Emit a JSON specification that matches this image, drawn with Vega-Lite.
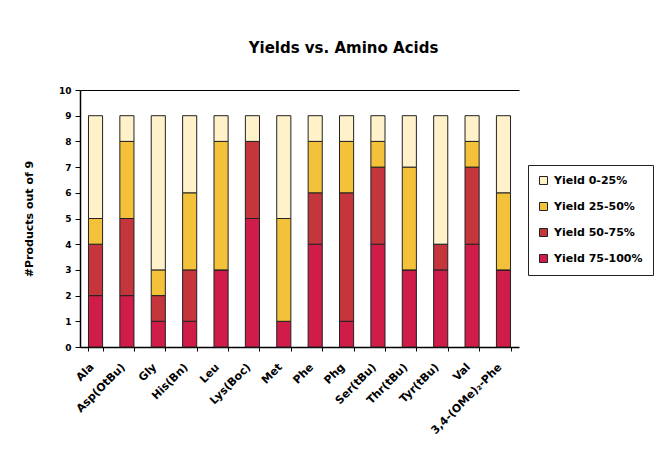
{
  "$schema": "https://vega.github.io/schema/vega-lite/v6.json",
  "width": 439,
  "height": 257,
  "autosize": {"type": "none"},
  "padding": {"left": 80, "top": 90, "right": 152, "bottom": 108},
  "background": "white",
  "title": {
    "text": "Yields vs. Amino Acids",
    "font": "DejaVu Sans",
    "fontSize": 15,
    "fontWeight": "bold",
    "color": "black",
    "offset": 30,
    "dx": 44
  },
  "data": {
    "values": [
      {"acid": "Ala", "yield": "Yield 75-100%", "n": 2},
      {"acid": "Ala", "yield": "Yield 50-75%", "n": 2},
      {"acid": "Ala", "yield": "Yield 25-50%", "n": 1},
      {"acid": "Ala", "yield": "Yield 0-25%", "n": 4},
      {"acid": "Asp(OtBu)", "yield": "Yield 75-100%", "n": 2},
      {"acid": "Asp(OtBu)", "yield": "Yield 50-75%", "n": 3},
      {"acid": "Asp(OtBu)", "yield": "Yield 25-50%", "n": 3},
      {"acid": "Asp(OtBu)", "yield": "Yield 0-25%", "n": 1},
      {"acid": "Gly", "yield": "Yield 75-100%", "n": 1},
      {"acid": "Gly", "yield": "Yield 50-75%", "n": 1},
      {"acid": "Gly", "yield": "Yield 25-50%", "n": 1},
      {"acid": "Gly", "yield": "Yield 0-25%", "n": 6},
      {"acid": "His(Bn)", "yield": "Yield 75-100%", "n": 1},
      {"acid": "His(Bn)", "yield": "Yield 50-75%", "n": 2},
      {"acid": "His(Bn)", "yield": "Yield 25-50%", "n": 3},
      {"acid": "His(Bn)", "yield": "Yield 0-25%", "n": 3},
      {"acid": "Leu", "yield": "Yield 75-100%", "n": 3},
      {"acid": "Leu", "yield": "Yield 50-75%", "n": 0},
      {"acid": "Leu", "yield": "Yield 25-50%", "n": 5},
      {"acid": "Leu", "yield": "Yield 0-25%", "n": 1},
      {"acid": "Lys(Boc)", "yield": "Yield 75-100%", "n": 5},
      {"acid": "Lys(Boc)", "yield": "Yield 50-75%", "n": 3},
      {"acid": "Lys(Boc)", "yield": "Yield 25-50%", "n": 0},
      {"acid": "Lys(Boc)", "yield": "Yield 0-25%", "n": 1},
      {"acid": "Met", "yield": "Yield 75-100%", "n": 1},
      {"acid": "Met", "yield": "Yield 50-75%", "n": 0},
      {"acid": "Met", "yield": "Yield 25-50%", "n": 4},
      {"acid": "Met", "yield": "Yield 0-25%", "n": 4},
      {"acid": "Phe", "yield": "Yield 75-100%", "n": 4},
      {"acid": "Phe", "yield": "Yield 50-75%", "n": 2},
      {"acid": "Phe", "yield": "Yield 25-50%", "n": 2},
      {"acid": "Phe", "yield": "Yield 0-25%", "n": 1},
      {"acid": "Phg", "yield": "Yield 75-100%", "n": 1},
      {"acid": "Phg", "yield": "Yield 50-75%", "n": 5},
      {"acid": "Phg", "yield": "Yield 25-50%", "n": 2},
      {"acid": "Phg", "yield": "Yield 0-25%", "n": 1},
      {"acid": "Ser(tBu)", "yield": "Yield 75-100%", "n": 4},
      {"acid": "Ser(tBu)", "yield": "Yield 50-75%", "n": 3},
      {"acid": "Ser(tBu)", "yield": "Yield 25-50%", "n": 1},
      {"acid": "Ser(tBu)", "yield": "Yield 0-25%", "n": 1},
      {"acid": "Thr(tBu)", "yield": "Yield 75-100%", "n": 3},
      {"acid": "Thr(tBu)", "yield": "Yield 50-75%", "n": 0},
      {"acid": "Thr(tBu)", "yield": "Yield 25-50%", "n": 4},
      {"acid": "Thr(tBu)", "yield": "Yield 0-25%", "n": 2},
      {"acid": "Tyr(tBu)", "yield": "Yield 75-100%", "n": 3},
      {"acid": "Tyr(tBu)", "yield": "Yield 50-75%", "n": 1},
      {"acid": "Tyr(tBu)", "yield": "Yield 25-50%", "n": 0},
      {"acid": "Tyr(tBu)", "yield": "Yield 0-25%", "n": 5},
      {"acid": "Val", "yield": "Yield 75-100%", "n": 4},
      {"acid": "Val", "yield": "Yield 50-75%", "n": 3},
      {"acid": "Val", "yield": "Yield 25-50%", "n": 1},
      {"acid": "Val", "yield": "Yield 0-25%", "n": 1},
      {"acid": "3,4-(OMe)₂-Phe", "yield": "Yield 75-100%", "n": 3},
      {"acid": "3,4-(OMe)₂-Phe", "yield": "Yield 50-75%", "n": 0},
      {"acid": "3,4-(OMe)₂-Phe", "yield": "Yield 25-50%", "n": 3},
      {"acid": "3,4-(OMe)₂-Phe", "yield": "Yield 0-25%", "n": 3}
    ]
  },
  "mark": {"type": "bar", "stroke": "#222222", "strokeWidth": 1},
  "encoding": {
    "x": {
      "field": "acid",
      "type": "nominal",
      "sort": null,
      "scale": {"paddingInner": 0.55, "paddingOuter": 0.27},
      "axis": {
        "title": null,
        "labelAngle": -45,
        "labelFont": "DejaVu Sans",
        "labelFontSize": 11,
        "labelFontWeight": "bold",
        "labelColor": "black",
        "tickBand": "extent",
        "tickColor": "black",
        "tickSize": 4,
        "domainColor": "black",
        "domainWidth": 1.5,
        "labelPadding": 10,
        "labelOffset": -8
      }
    },
    "y": {
      "field": "n",
      "type": "quantitative",
      "stack": "zero",
      "scale": {"domain": [0, 10]},
      "axis": {
        "title": "#Products out of 9",
        "titleFont": "DejaVu Sans",
        "titleFontSize": 11,
        "titleFontWeight": "bold",
        "titleColor": "black",
        "titlePadding": 24,
        "values": [0, 1, 2, 3, 4, 5, 6, 7, 8, 9, 10],
        "labelFont": "DejaVu Sans",
        "labelFontSize": 9,
        "labelFontWeight": "bold",
        "labelColor": "black",
        "labelPadding": 4,
        "grid": true,
        "gridColor": "black",
        "gridWidth": 1.2,
        "gridOpacity": {"condition": {"test": "datum.value === 10", "value": 1}, "value": 0},
        "tickColor": "black",
        "tickSize": 5,
        "domainColor": "black",
        "domainWidth": 1.5
      }
    },
    "color": {
      "field": "yield",
      "type": "nominal",
      "scale": {
        "domain": ["Yield 0-25%", "Yield 25-50%", "Yield 50-75%", "Yield 75-100%"],
        "range": ["#FFF1C9", "#F3C23A", "#C5353C", "#CF1C48"]
      },
      "legend": {
        "title": null,
        "orient": "none",
        "legendX": 448,
        "legendY": 75,
        "symbolType": "square",
        "symbolSize": 64,
        "symbolStrokeColor": "#222222",
        "symbolStrokeWidth": 1,
        "labelFont": "DejaVu Sans",
        "labelFontSize": 11,
        "labelFontWeight": "bold",
        "labelColor": "black",
        "labelOffset": 5,
        "rowPadding": 13,
        "padding": 10,
        "strokeColor": "#222222",
        "fillColor": "white"
      }
    },
    "order": {"field": "yield", "sort": "descending"}
  },
  "config": {
    "view": {"stroke": null}
  }
}
